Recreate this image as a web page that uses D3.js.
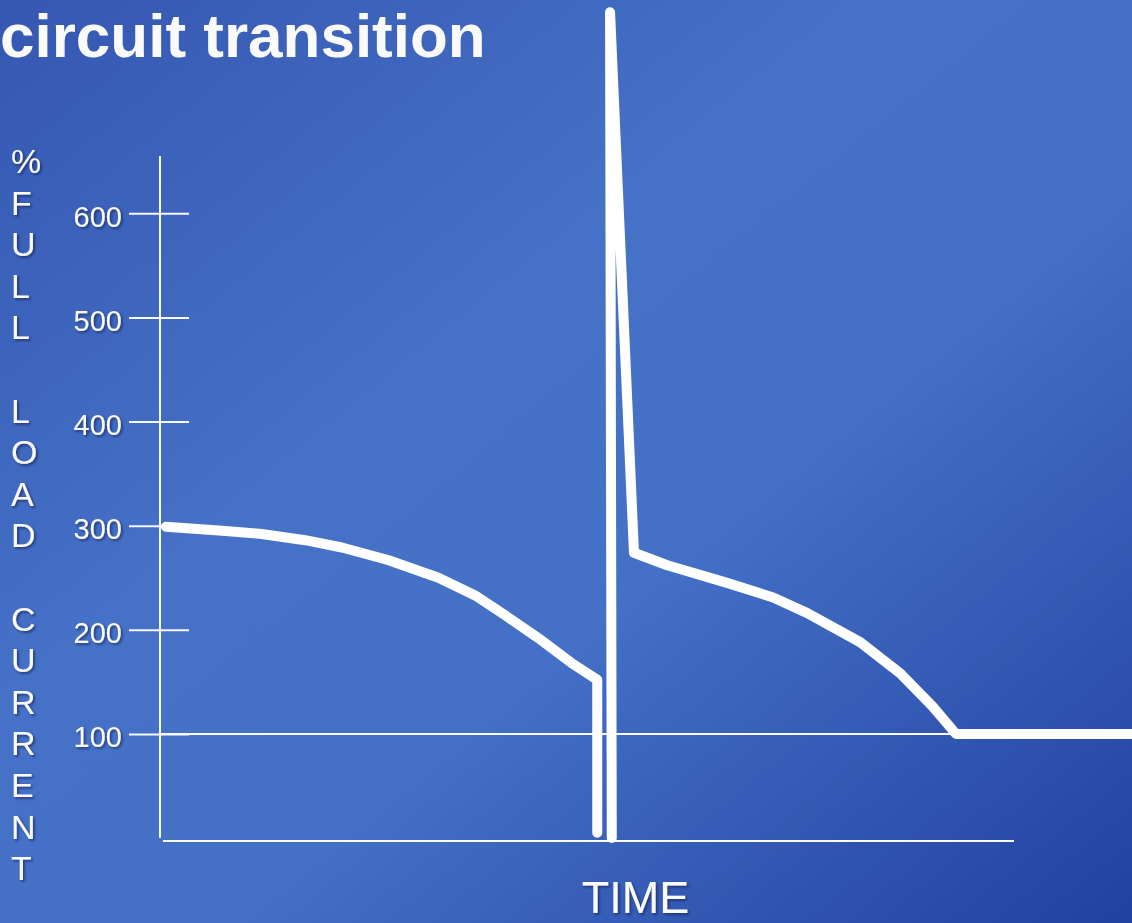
<!DOCTYPE html>
<html>
<head>
<meta charset="utf-8">
<script src="https://cdn.jsdelivr.net/npm/d3@7"></script>
<style>
  html, body { margin: 0; padding: 0; overflow: hidden; background: #3f68c0; }
  svg { display: block; }
  text { font-family: "Liberation Sans", Arial, Helvetica, sans-serif; fill: #fafafa; }
</style>
</head>
<body>
<svg id="chart" width="1132" height="923"></svg>
<script>
// ---- labels ----
const titleText = "circuit transition";
const xTitle = "TIME";
const yTitleLines = ["%", "F", "U", "L", "L", "", "L", "O", "A", "D", "", "C", "U", "R", "R", "E", "N", "T"];
const yTicks = [100, 200, 300, 400, 500, 600];
const referenceLevel = 100;

// ---- load current before the fault is cleared (time, % of full load) ----
const faultTime = [0.7, 7.3, 11.9, 17.0, 21.3, 26.7, 32.6, 36.9, 40.4, 44.3, 48.2, 51.2, 51.2];
const faultLoad = [299, 295, 292, 286, 279, 267, 250, 233, 214, 192, 168, 152, 5];

// ---- reclosing inrush spike and decay back to full load ----
const recloseTime = [52.9, 52.7, 55.5, 59.4, 66.4, 71.8, 75.8, 82.0, 86.7, 90.5, 93.2, 114];
const recloseLoad = [0, 793, 274, 262, 245, 231, 216, 188, 158, 126, 100, 100];

const W = 1132, H = 923;
const svg = d3.select("#chart");
const defs = svg.append("defs");

// diagonal slide-style background
const grad = defs.append("linearGradient")
  .attr("id", "bg").attr("x1", 0).attr("y1", 0).attr("x2", 1).attr("y2", 1);
[[0, "#3557b1"], [0.38, "#4571c7"], [0.6, "#4470c6"], [1, "#2141a0"]]
  .forEach(([o, c]) => grad.append("stop").attr("offset", o).attr("stop-color", c));

const shadow = defs.append("filter").attr("id", "shadow")
  .attr("x", "-20%").attr("y", "-20%").attr("width", "140%").attr("height", "140%");
shadow.append("feDropShadow")
  .attr("dx", 1.6).attr("dy", 1.6).attr("stdDeviation", 0.9)
  .attr("flood-color", "#0d1a4a").attr("flood-opacity", 0.65);

svg.append("rect").attr("width", W).attr("height", H).attr("fill", "url(#bg)");

// ---- scales ----
const x = d3.scaleLinear().domain([0, 100]).range([160, 1014]);
const y = d3.scaleLinear().domain([0, 655]).range([838, 156]);

// ---- title ----
svg.append("text")
  .attr("x", 0).attr("y", 57)
  .style("font-size", "62px").style("font-weight", "bold")
  .text(titleText);

// ---- y axis ----
const yAxis = svg.append("g")
  .attr("transform", `translate(${x(0)},0)`)
  .call(d3.axisLeft(y).tickValues(yTicks).tickSize(31).tickPadding(7).tickFormat(d3.format("d")));
yAxis.select(".domain").remove();
yAxis.attr("font-family", null).attr("font-size", null);
yAxis.selectAll(".tick line")
  .attr("x1", 29).attr("x2", -31)
  .attr("stroke", "#fafafa").attr("stroke-width", 2);
yAxis.selectAll(".tick text")
  .attr("dy", "0.45em")
  .style("font-size", "29px")
  .attr("fill", "#fafafa")
  .attr("filter", "url(#shadow)");

// axis spine
svg.append("line")
  .attr("x1", x(0)).attr("x2", x(0))
  .attr("y1", y(0)).attr("y2", y(655))
  .attr("stroke", "#fafafa").attr("stroke-width", 2);

// time axis, drawn just under the zero level
svg.append("line")
  .attr("x1", x(0) + 3).attr("x2", x(100))
  .attr("y1", y(0) + 3).attr("y2", y(0) + 3)
  .attr("stroke", "#fafafa").attr("stroke-width", 2);

// full-load reference line
svg.append("line")
  .attr("x1", x(0)).attr("x2", W)
  .attr("y1", y(referenceLevel)).attr("y2", y(referenceLevel))
  .attr("stroke", "#fafafa").attr("stroke-width", 2);

// ---- current traces ----
const line = d3.line().x(d => x(d[0])).y(d => y(d[1])).curve(d3.curveLinear);
const traces = [
  d3.zip(faultTime, faultLoad),
  d3.zip(recloseTime, recloseLoad)
];
svg.append("g").selectAll("path").data(traces).join("path")
  .attr("d", line)
  .attr("fill", "none")
  .attr("stroke", "#ffffff")
  .attr("stroke-width", 10)
  .attr("stroke-linecap", "round")
  .attr("stroke-linejoin", "round");

// ---- stacked y title ----
svg.append("g").selectAll("text").data(yTitleLines).join("text")
  .attr("x", 11)
  .attr("y", (d, i) => 173 + i * 41.6)
  .style("font-size", "34px")
  .attr("filter", "url(#shadow)")
  .text(d => d);

// ---- x title ----
svg.append("text")
  .attr("x", 635.5).attr("y", 913)
  .attr("text-anchor", "middle")
  .style("font-size", "45px")
  .attr("filter", "url(#shadow)")
  .text(xTitle);
</script>
</body>
</html>
